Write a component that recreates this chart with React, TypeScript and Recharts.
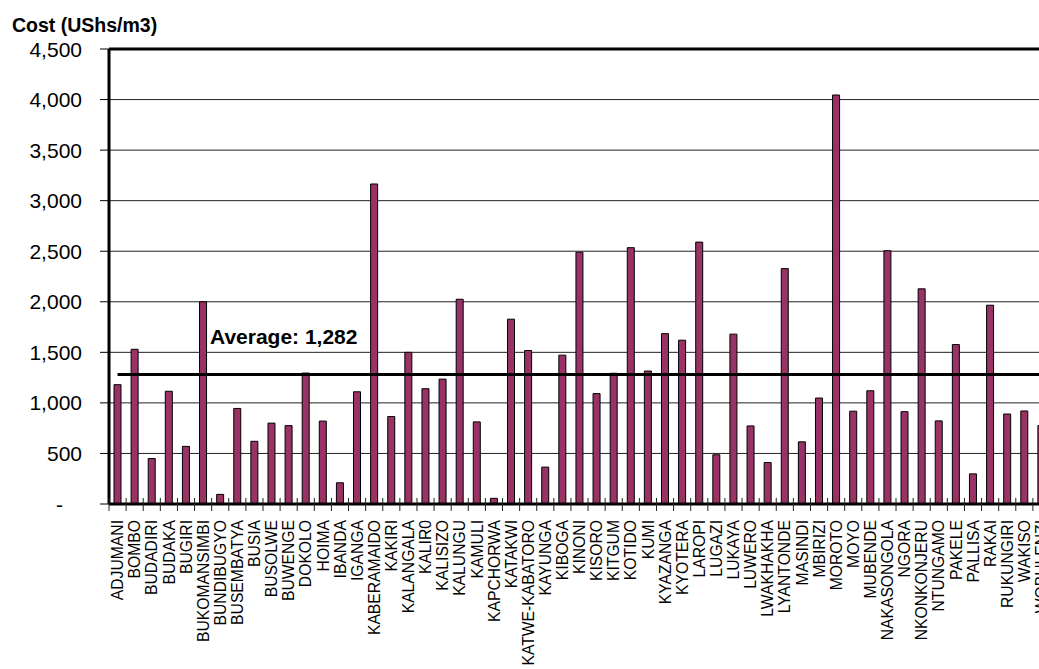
import React from 'react';
import { BarChart, Bar, XAxis, YAxis, CartesianGrid, ReferenceLine } from 'recharts';

const towns = [
  'ADJUMANI', 'BOMBO', 'BUDADIRI', 'BUDAKA', 'BUGIRI', 'BUKOMANSIMBI', 'BUNDIBUGYO',
  'BUSEMBATYA', 'BUSIA', 'BUSOLWE', 'BUWENGE', 'DOKOLO', 'HOIMA', 'IBANDA', 'IGANGA',
  'KABERAMAIDO', 'KAKIRI', 'KALANGALA', 'KALIR0', 'KALISIZO', 'KALUNGU', 'KAMULI',
  'KAPCHORWA', 'KATAKWI', 'KATWE-KABATORO', 'KAYUNGA', 'KIBOGA', 'KINONI', 'KISORO',
  'KITGUM', 'KOTIDO', 'KUMI', 'KYAZANGA', 'KYOTERA', 'LAROPI', 'LUGAZI', 'LUKAYA',
  'LUWERO', 'LWAKHAKHA', 'LYANTONDE', 'MASINDI', 'MBIRIZI', 'MOROTO', 'MOYO', 'MUBENDE',
  'NAKASONGOLA', 'NGORA', 'NKONKONJERU', 'NTUNGAMO', 'PAKELE', 'PALLISA', 'RAKAI',
  'RUKUNGIRI', 'WAKISO', 'WOBULENZI',
];

const costs = [
  1180, 1530, 450, 1115, 570, 2000, 95,
  945, 620, 800, 775, 1295, 820, 210, 1110,
  3165, 865, 1500, 1140, 1235, 2025, 812,
  56, 1828, 1518, 365, 1472, 2490, 1092,
  1293, 2535, 1315, 1685, 1620, 2590, 487, 1680,
  772, 410, 2328, 615, 1048, 4045, 918, 1120,
  2505, 913, 2128, 822, 1577, 298, 1966,
  890, 920, 776,
];

const yTicks = [0, 500, 1000, 1500, 2000, 2500, 3000, 3500, 4000, 4500];
const average = 1282;

const data = towns.map((name, i) => ({ name, cost: costs[i] }));

const FONT = '"Liberation Sans", Arial, sans-serif';
const BAND = 17.1;

function YTick({ x, y, payload }: any) {
  const v = payload.value as number;
  const label = v === 0 ? '-' : v.toLocaleString('en-US');
  return (
    <text x={v === 0 ? x - 19 : x} y={y} dy="0.36em" textAnchor="end" fontFamily={FONT} fontSize={21} fill="#000">
      {label}
    </text>
  );
}

function XTick({ x, y, payload, index }: any) {
  const left = x - BAND / 2;
  return (
    <g>
      <line x1={left} y1={498} x2={left} y2={511} stroke="#222" strokeWidth={1} />
      {index === towns.length - 1 && (
        <line x1={left + BAND} y1={498} x2={left + BAND} y2={511} stroke="#222" strokeWidth={1} />
      )}
      <text
        transform={`translate(${x},${520}) rotate(-90)`}
        dy="0.36em"
        textAnchor="end"
        fontFamily={FONT}
        fontSize={15.7}
        fill="#000"
      >
        {payload.value}
      </text>
    </g>
  );
}

function AverageLabel({ viewBox }: any) {
  return (
    <text x={210} y={viewBox.y - 30} fontFamily={FONT} fontSize={21} fontWeight="bold" fill="#000">
      Average: 1,282
    </text>
  );
}

export default function App() {
  return (
    <div style={{ position: 'absolute', left: 0, top: 0, width: 1039, height: 669, overflow: 'hidden', background: '#fff' }}>
      <div style={{ position: 'absolute', left: 12, top: 14, fontFamily: FONT, fontSize: 19.5, fontWeight: 'bold', color: '#000' }}>
        Cost (UShs/m3)
      </div>
      <BarChart
        width={1060}
        height={669}
        data={data}
        margin={{ top: 49, right: 10, left: 0, bottom: 0 }}
        barCategoryGap={0}
      >
        <CartesianGrid vertical={false} stroke="#222" strokeWidth={1} />
        <XAxis
          dataKey="name"
          interval={0}
          height={165}
          tick={<XTick />}
          tickLine={false}
          axisLine={{ stroke: '#000', strokeWidth: 3 }}
        />
        <YAxis
          domain={[0, 4500]}
          ticks={yTicks}
          width={109}
          tick={<YTick />}
          tickSize={9}
          tickMargin={18}
          tickLine={{ stroke: '#000', strokeWidth: 1 }}
          axisLine={{ stroke: '#000', strokeWidth: 3 }}
        />
        <ReferenceLine y={4500} stroke="#000" strokeWidth={3} />
        <Bar dataKey="cost" fill="#993366" stroke="#000" strokeWidth={1} barSize={7} isAnimationActive={false} />
        <ReferenceLine
          segment={[{ x: 'ADJUMANI', y: average }, { x: 'WOBULENZI', y: average }]}
          stroke="#000"
          strokeWidth={3}
          label={<AverageLabel />}
        />
      </BarChart>
    </div>
  );
}
